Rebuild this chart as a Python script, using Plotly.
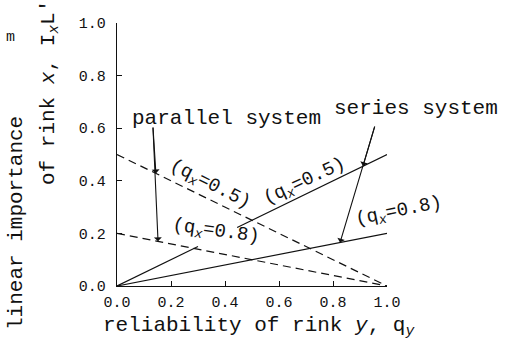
import plotly.graph_objects as go

# reliability of rink y
qy = [0.0, 1.0]

# parallel system: linear importance of rink x
parallel_qx05 = [0.5, 0.0]
parallel_qx08 = [0.2, 0.0]

# series system: linear importance of rink x
# (the qx=0.5 line is broken where the "(qx=0.8)" label sits)
series_qx05_q = [0.0, 0.30, None, 0.445, 1.0]
series_qx05 = [0.0, 0.15, None, 0.2225, 0.5]
series_qx08 = [0.0, 0.2]

tick_vals = [0.0, 0.2, 0.4, 0.6, 0.8, 1.0]
tick_text = ["0.0", "0.2", "0.4", "0.6", "0.8", "1.0"]

MONO = "Liberation Mono"
INK = "#111111"

fig = go.Figure()

dash = "8px,5px"
fig.add_trace(go.Scatter(x=qy, y=parallel_qx05, mode="lines",
                         line=dict(color=INK, width=1.2, dash=dash)))
fig.add_trace(go.Scatter(x=qy, y=parallel_qx08, mode="lines",
                         line=dict(color=INK, width=1.2, dash=dash)))
fig.add_trace(go.Scatter(x=series_qx05_q, y=series_qx05, mode="lines",
                         line=dict(color=INK, width=1.2), connectgaps=False))
fig.add_trace(go.Scatter(x=qy, y=series_qx08, mode="lines",
                         line=dict(color=INK, width=1.2)))

axis_common = dict(
    range=[0, 1], showgrid=False, zeroline=False, showline=True,
    linecolor=INK, linewidth=1.3, ticks="inside", ticklen=5, tickwidth=1,
    tickcolor=INK, tickvals=tick_vals, ticktext=tick_text,
    tickfont=dict(family=MONO, size=15, color=INK), fixedrange=True,
)
fig.update_xaxes(**axis_common, ticklabelstandoff=2)
fig.update_yaxes(**axis_common, ticklabelstandoff=7)

ann = []
label_font = dict(family=MONO, size=21, color=INK)
curve_font = dict(family=MONO, size=19, color=INK)


def text_ann(text, x, y, font, angle=0):
    # paper-referenced text, centred on (x, y)
    return dict(text=text, xref="paper", yref="paper", x=x, y=y,
                textangle=angle, showarrow=False, font=font,
                xanchor="center", yanchor="middle")


# axis titles
ann.append(text_ann("linear importance", -0.374, 0.2395, label_font, -90))
ann.append(text_ann("of rink <i>x</i>, I<sub><i>x</i></sub>L'", -0.248, 0.734,
                    label_font, -90))
ann.append(text_ann("m", -0.393, 0.943, dict(family=MONO, size=15, color=INK)))
ann.append(text_ann("reliability of rink <i>y</i>, q<sub><i>y</i></sub>",
                    0.526, -0.155, label_font))

# system labels
ann.append(text_ann("parallel system", 0.406, 0.636, label_font))
ann.append(text_ann("series system", 1.107, 0.676, label_font))

# curve labels (axis ranges are [0, 1], so paper units equal data units)
curve_labels = [
    ("(q<sub><i>x</i></sub>=0.5)", 0.344, 0.384, 27),
    ("(q<sub><i>x</i></sub>=0.5)", 0.696, 0.395, -25),
    ("(q<sub><i>x</i></sub>=0.8)", 0.367, 0.205, 8),
    ("(q<sub><i>x</i></sub>=0.8)", 1.044, 0.281, -11.5),
]
for txt, x, y, ang in curve_labels:
    ann.append(text_ann(txt, x, y, curve_font, ang))

# pointer arrows
arrows = [
    ((0.133, 0.608), (0.144, 0.428)),
    ((0.133, 0.608), (0.152, 0.170)),
    ((0.956, 0.612), (0.911, 0.456)),
    ((0.956, 0.612), (0.826, 0.165)),
]
for (tx, ty), (hx, hy) in arrows:
    ann.append(dict(text="", x=hx, y=hy, xref="x", yref="y",
                    ax=tx, ay=ty, axref="x", ayref="y", showarrow=True,
                    arrowhead=1, arrowsize=1.2, arrowwidth=1.1, arrowcolor=INK))

fig.update_layout(
    width=505, height=344,
    margin=dict(l=117, r=118, t=23, b=58),
    paper_bgcolor="white", plot_bgcolor="white",
    showlegend=False, annotations=ann,
)

fig.write_html("out.html", config={"displayModeBar": False})
